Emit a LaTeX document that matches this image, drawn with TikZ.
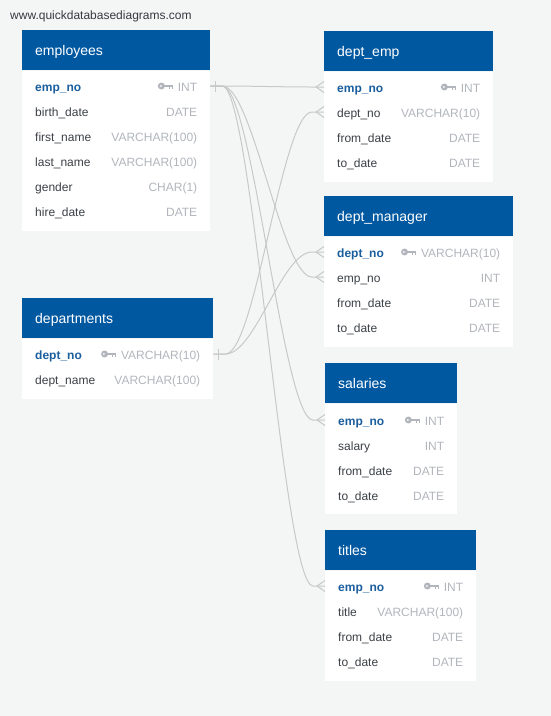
\documentclass[tikz,border=0pt]{standalone}
\usepackage{fontspec}
\setmainfont{Liberation Sans}
\definecolor{qblue}{RGB}{0,88,161}
\definecolor{qkey}{RGB}{26,94,158}
\definecolor{qtxt}{RGB}{60,64,70}
\definecolor{qtype}{RGB}{178,182,188}
\definecolor{qbg}{RGB}{244,246,246}
\definecolor{qline}{RGB}{200,200,200}
\begin{document}
\begin{tikzpicture}[x=1pt, y=-1pt,
    hdr/.style={rectangle, fill=qblue, anchor=north west,
      minimum height=40pt, inner sep=0pt},
    htxt/.style={anchor=base west, inner sep=0pt, text=white,
      font=\fontsize{14}{16}\selectfont},
    tbody/.style={rectangle, fill=white, anchor=north west, inner sep=0pt},
    row/.style={rectangle, anchor=west, minimum height=25pt, inner sep=0pt},
    fname/.style={anchor=base west, inner sep=0pt, text=qtxt,
      font=\fontsize{12}{14}\selectfont},
    pkname/.style={fname, text=qkey, font=\fontsize{12}{14}\selectfont\bfseries},
    ftype/.style={anchor=base east, inner sep=0pt, text=qtype,
      font=\fontsize{12}{14}\selectfont},
    lnk/.style={draw=qline, line width=1pt},
    pkey/.pic={
      \fill[qtype] (-11.8,0) circle[radius=3.5];
      \fill[white] (-12.4,0) circle[radius=1];
      \fill[qtype] (-9,-1.5) rectangle (0,1);
      \fill[qtype] (-4.6,1) rectangle (-3,3);
      \fill[qtype] (-1.6,1) rectangle (0,3);
    },
    one/.pic={\draw[lnk] (5,-5.5) -- (5,5.5);},
    many/.pic={\draw[lnk] (-8,0) -- (0,-5.5) (-8,0) -- (0,5.5);}
  ]
  \fill[qbg] (0,0) rectangle (551,716);
  \node[fname, text=qtxt!90!black] (site) at (10,19.5) {www.quickdatabasediagrams.com};

  % employees
  \node[hdr, minimum width=188pt] (emp) at (22,30) {};
  \node[htxt] (emp-h) at ([xshift=13pt,yshift=-25pt]emp.north west) {employees};
  \node[tbody, minimum width=188pt, minimum height=160pt] (emp-b) at (emp.south west) {};
  \node[row, minimum width=188pt] (emp-1) at (22,86) {};
  \node[pkname] (emp-1-n) at ([xshift=13pt,yshift=-5pt]emp-1.west) {emp\_no};
  \node[ftype] (emp-1-t) at ([xshift=-13pt,yshift=-5pt]emp-1.east) {INT};
  \path (emp-1-t.base west |- emp-1.west) ++(-4.5,0) pic {pkey};
  \foreach \fn/\ft [count=\i from 2] in {birth\_date/DATE, first\_name/VARCHAR(100),
      last\_name/VARCHAR(100), gender/CHAR(1), hire\_date/DATE} {
    \node[row, minimum width=188pt] (emp-\i) at (22,{86+25*(\i-1)}) {};
    \node[fname] (emp-\i-n) at ([xshift=13pt,yshift=-5pt]emp-\i.west) {\fn};
    \node[ftype] (emp-\i-t) at ([xshift=-13pt,yshift=-5pt]emp-\i.east) {\ft};
  }

  % departments
  \node[hdr, minimum width=191pt] (dept) at (22,298) {};
  \node[htxt] (dept-h) at ([xshift=13pt,yshift=-25pt]dept.north west) {departments};
  \node[tbody, minimum width=191pt, minimum height=60pt] (dept-b) at (dept.south west) {};
  \node[row, minimum width=191pt] (dept-1) at (22,354) {};
  \node[pkname] (dept-1-n) at ([xshift=13pt,yshift=-5pt]dept-1.west) {dept\_no};
  \node[ftype] (dept-1-t) at ([xshift=-13pt,yshift=-5pt]dept-1.east) {VARCHAR(10)};
  \path (dept-1-t.base west |- dept-1.west) ++(-4.5,0) pic {pkey};
  \node[row, minimum width=191pt] (dept-2) at (22,379) {};
  \node[fname] (dept-2-n) at ([xshift=13pt,yshift=-5pt]dept-2.west) {dept\_name};
  \node[ftype] (dept-2-t) at ([xshift=-13pt,yshift=-5pt]dept-2.east) {VARCHAR(100)};

  % dept_emp
  \node[hdr, minimum width=169pt] (demp) at (324,31) {};
  \node[htxt] (demp-h) at ([xshift=13pt,yshift=-25pt]demp.north west) {dept\_emp};
  \node[tbody, minimum width=169pt, minimum height=110pt] (demp-b) at (demp.south west) {};
  \node[row, minimum width=169pt] (demp-1) at (324,87) {};
  \node[pkname] (demp-1-n) at ([xshift=13pt,yshift=-5pt]demp-1.west) {emp\_no};
  \node[ftype] (demp-1-t) at ([xshift=-13pt,yshift=-5pt]demp-1.east) {INT};
  \path (demp-1-t.base west |- demp-1.west) ++(-4.5,0) pic {pkey};
  \foreach \fn/\ft [count=\i from 2] in {dept\_no/VARCHAR(10), from\_date/DATE, to\_date/DATE} {
    \node[row, minimum width=169pt] (demp-\i) at (324,{87+25*(\i-1)}) {};
    \node[fname] (demp-\i-n) at ([xshift=13pt,yshift=-5pt]demp-\i.west) {\fn};
    \node[ftype] (demp-\i-t) at ([xshift=-13pt,yshift=-5pt]demp-\i.east) {\ft};
  }

  % dept_manager
  \node[hdr, minimum width=189pt] (dman) at (324,196) {};
  \node[htxt] (dman-h) at ([xshift=13pt,yshift=-25pt]dman.north west) {dept\_manager};
  \node[tbody, minimum width=189pt, minimum height=110pt] (dman-b) at (dman.south west) {};
  \node[row, minimum width=189pt] (dman-1) at (324,252) {};
  \node[pkname] (dman-1-n) at ([xshift=13pt,yshift=-5pt]dman-1.west) {dept\_no};
  \node[ftype] (dman-1-t) at ([xshift=-13pt,yshift=-5pt]dman-1.east) {VARCHAR(10)};
  \path (dman-1-t.base west |- dman-1.west) ++(-4.5,0) pic {pkey};
  \foreach \fn/\ft [count=\i from 2] in {emp\_no/INT, from\_date/DATE, to\_date/DATE} {
    \node[row, minimum width=189pt] (dman-\i) at (324,{252+25*(\i-1)}) {};
    \node[fname] (dman-\i-n) at ([xshift=13pt,yshift=-5pt]dman-\i.west) {\fn};
    \node[ftype] (dman-\i-t) at ([xshift=-13pt,yshift=-5pt]dman-\i.east) {\ft};
  }

  % salaries
  \node[hdr, minimum width=132pt] (sal) at (325,363) {};
  \node[htxt] (sal-h) at ([xshift=13pt,yshift=-25pt]sal.north west) {salaries};
  \node[tbody, minimum width=132pt, minimum height=110pt] (sal-b) at (sal.south west) {};
  \node[row, minimum width=132pt] (sal-1) at (325,420) {};
  \node[pkname] (sal-1-n) at ([xshift=13pt,yshift=-5pt]sal-1.west) {emp\_no};
  \node[ftype] (sal-1-t) at ([xshift=-13pt,yshift=-5pt]sal-1.east) {INT};
  \path (sal-1-t.base west |- sal-1.west) ++(-4.5,0) pic {pkey};
  \foreach \fn/\ft [count=\i from 2] in {salary/INT, from\_date/DATE, to\_date/DATE} {
    \node[row, minimum width=132pt] (sal-\i) at (325,{420+25*(\i-1)}) {};
    \node[fname] (sal-\i-n) at ([xshift=13pt,yshift=-5pt]sal-\i.west) {\fn};
    \node[ftype] (sal-\i-t) at ([xshift=-13pt,yshift=-5pt]sal-\i.east) {\ft};
  }

  % titles
  \node[hdr, minimum width=151pt] (tit) at (325,530) {};
  \node[htxt] (tit-h) at ([xshift=13pt,yshift=-25pt]tit.north west) {titles};
  \node[tbody, minimum width=151pt, minimum height=110pt] (tit-b) at (tit.south west) {};
  \node[row, minimum width=151pt] (tit-1) at (325,586) {};
  \node[pkname] (tit-1-n) at ([xshift=13pt,yshift=-5pt]tit-1.west) {emp\_no};
  \node[ftype] (tit-1-t) at ([xshift=-13pt,yshift=-5pt]tit-1.east) {INT};
  \path (tit-1-t.base west |- tit-1.west) ++(-4.5,0) pic {pkey};
  \foreach \fn/\ft [count=\i from 2] in {title/VARCHAR(100), from\_date/DATE, to\_date/DATE} {
    \node[row, minimum width=151pt] (tit-\i) at (325,{586+25*(\i-1)}) {};
    \node[fname] (tit-\i-n) at ([xshift=13pt,yshift=-5pt]tit-\i.west) {\fn};
    \node[ftype] (tit-\i-t) at ([xshift=-13pt,yshift=-5pt]tit-\i.east) {\ft};
  }

  % relations
  \draw[lnk] (emp-1.east) -- ++(12,0) .. controls +(30,0) and +(-30,0) .. ([xshift=-12pt]demp-1.west) -- (demp-1.west);
  \draw[lnk] (emp-1.east) -- ++(12,0) .. controls +(30,0) and +(-30,0) .. ([xshift=-12pt]dman-2.west) -- (dman-2.west);
  \draw[lnk] (emp-1.east) -- ++(12,0) .. controls +(30,0) and +(-30,0) .. ([xshift=-12pt]sal-1.west) -- (sal-1.west);
  \draw[lnk] (emp-1.east) -- ++(12,0) .. controls +(30,0) and +(-30,0) .. ([xshift=-12pt]tit-1.west) -- (tit-1.west);
  \draw[lnk] (dept-1.east) -- ++(12,0) .. controls +(30,0) and +(-30,0) .. ([xshift=-12pt]demp-2.west) -- (demp-2.west);
  \draw[lnk] (dept-1.east) -- ++(12,0) .. controls +(30,0) and +(-30,0) .. ([xshift=-12pt]dman-1.west) -- (dman-1.west);
  \pic at (emp-1.east) {one};
  \pic at (dept-1.east) {one};
  \foreach \t in {demp-1, demp-2, dman-1, dman-2, sal-1, tit-1}
    \pic at (\t.west) {many};
\end{tikzpicture}
\end{document}
